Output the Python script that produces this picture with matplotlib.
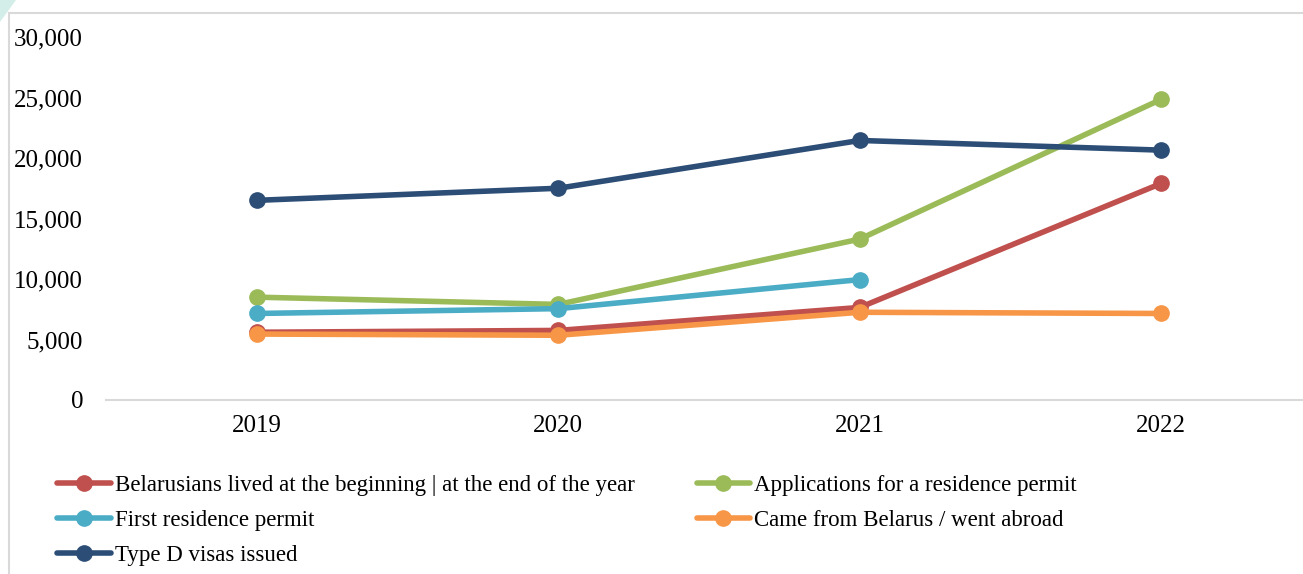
import matplotlib.pyplot as plt
from matplotlib.lines import Line2D
from matplotlib.patches import Polygon
from matplotlib.ticker import FuncFormatter

years = ["2019", "2020", "2021", "2022"]
belarusians = [5600, 5750, 7650, 17900]
applications = [8500, 7900, 13300, 24850]
first_permit = [7150, 7550, 9950]
came_from = [5450, 5350, 7250, 7150]
visas_d = [16500, 17500, 21450, 20650]

labels = [
    "Belarusians lived at the beginning | at the end of the year",
    "Applications for a residence permit",
    "First residence permit",
    "Came from Belarus / went abroad",
    "Type D visas issued",
]

plt.rcParams['font.family'] = ['Liberation Serif', 'DejaVu Serif']

fig = plt.figure(figsize=(13.03, 5.74), dpi=100)
W, H = 1303, 574
# axes: x from 106 to 1312 px, y 0 at 400 px, 30000 at 37 px
ax = fig.add_axes([106 / W, 1 - 400 / H, (1312 - 106) / W, (400 - 37) / H])

series = [
    (belarusians, "#C0504D", labels[0]),
    (applications, "#9BBB59", labels[1]),
    (first_permit, "#4BACC6", labels[2]),
    (came_from, "#F79646", labels[3]),
    (visas_d, "#2C4D75", labels[4]),
]
handles = {}
for vals, col, lab in series:
    h, = ax.plot(range(len(vals)), vals, color=col, lw=4.0, marker="o",
                 markersize=11, label=lab, solid_capstyle="round")
    handles[lab] = h

ax.set_xlim(-0.5, 3.5)
ax.set_ylim(0, 30000)
ax.set_yticks(range(0, 30001, 5000))
ax.yaxis.set_major_formatter(FuncFormatter(lambda v, p: f"{int(v):,}"))
ax.set_xticks(range(4))
ax.set_xticklabels(years)
ax.tick_params(length=0, labelsize=18, colors="black")
ax.tick_params(axis="x", pad=11)
ax.tick_params(axis="y", pad=16.5)
for s in ["top", "right", "left"]:
    ax.spines[s].set_visible(False)
ax.spines["bottom"].set_color("#d9d9d9")
ax.spines["bottom"].set_linewidth(1.5)

# legend fills column by column: reorder so rows read as in the original
order = [labels[0], labels[2], labels[4], labels[1], labels[3]]
leg = fig.legend([handles[l] for l in order], order, ncol=2,
                 loc="upper left", bbox_to_anchor=(57 / W, 1 - 475 / H),
                 frameon=False, fontsize=16.5, handlelength=2.35,
                 handletextpad=0.17, columnspacing=2.7, labelspacing=0.6,
                 borderaxespad=0, borderpad=0)

# outer chart frame and corner decoration
fig.add_artist(Line2D([9 / W, 9 / W], [0, 1 - 13 / H], color="#d9d9d9", lw=1.5))
fig.add_artist(Line2D([9 / W, 1], [1 - 13 / H, 1 - 13 / H], color="#d9d9d9", lw=1.5))
fig.add_artist(Polygon([[0, 1], [16 / W, 1], [0, 1 - 22 / H]], closed=True,
                       transform=fig.transFigure, color="#d3eee8", lw=0))

fig.savefig("out.png", dpi=100)
